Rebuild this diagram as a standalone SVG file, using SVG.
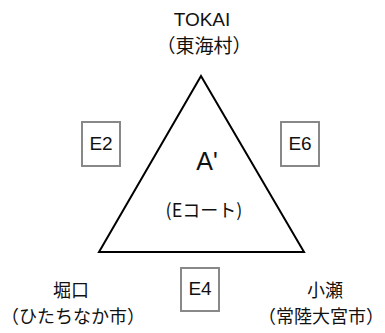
<svg xmlns="http://www.w3.org/2000/svg" width="385" height="333" viewBox="0 0 385 333">
<style>
.t{font-family:"Noto Sans CJK JP","Liberation Sans",sans-serif;font-size:18px;fill:#111;text-anchor:middle}
.l{font-family:"Liberation Sans","Noto Sans CJK JP",sans-serif;font-size:19px;fill:#111;text-anchor:middle}
.box{fill:#fff;stroke:#888;stroke-width:2}
</style>
<rect width="385" height="333" fill="#fff"/>
<g id="connectors"/>
<g id="court">
<polygon points="201,76 304,252 99,252" fill="#fff" stroke="#000" stroke-width="2" stroke-linejoin="miter"/>
<text class="l" x="207" y="170" style="font-size:25px">A'</text>
<text class="t" x="204" y="217">(Eコート)</text>
</g>
<g id="tokai">
<text class="l" x="202" y="26">TOKAI</text>
<text class="t" x="204" y="53" style="font-size:19px">（東海村）</text>
</g>
<g id="horiguchi">
<text class="t" x="71" y="297">堀口</text>
<text class="t" x="1" y="323" style="text-anchor:start">（ひたちなか市）</text>
</g>
<g id="ose">
<text class="t" x="325" y="297">小瀬</text>
<text class="t" x="384" y="323" style="text-anchor:end">（常陸大宮市）</text>
</g>
<g id="e2">
<rect class="box" x="82" y="122" width="38" height="44"/>
<text class="l" x="101" y="150">E2</text>
</g>
<g id="e6">
<rect class="box" x="281" y="122" width="38" height="44"/>
<text class="l" x="300" y="150">E6</text>
</g>
<g id="e4">
<rect class="box" x="181" y="268" width="38" height="43"/>
<text class="l" x="200" y="295">E4</text>
</g>
</svg>
